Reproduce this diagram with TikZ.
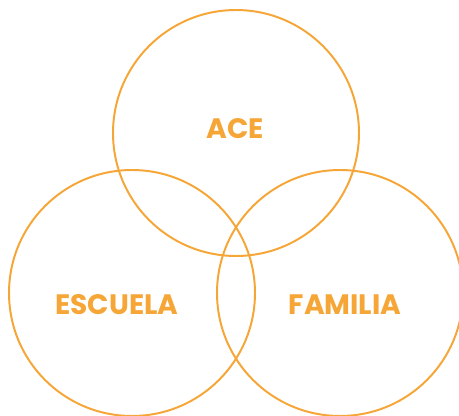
\documentclass[tikz,border=0pt]{standalone}
\usepackage{fontspec}
\setmainfont{Poppins}
\usetikzlibrary{positioning}
\definecolor{naranja}{RGB}{245,166,55}
\tikzset{ring/.style={circle, draw=naranja, line width=2.8pt, minimum size=12.3cm, inner sep=0pt},
         lbl/.style={text=naranja, font=\fontsize{40}{44}\selectfont\bfseries}}

\begin{document}
\begin{tikzpicture}[x=0.05cm,y=-0.05cm]
   \useasboundingbox (0,0) rectangle (459,416);
   \node[ring] (ace)     at (236,133) {};
   \node[ring] (escuela) at (132,293) {};
   \node[ring] (familia) at (340,293) {};
   \node[lbl] (tace)  at (235,129) {ACE};
   \node[lbl] (tesc)  at (117,305) {ESCUELA};
   \node[lbl] (tfam)  at (345,305) {FAMILIA};
\end{tikzpicture}
\end{document}
